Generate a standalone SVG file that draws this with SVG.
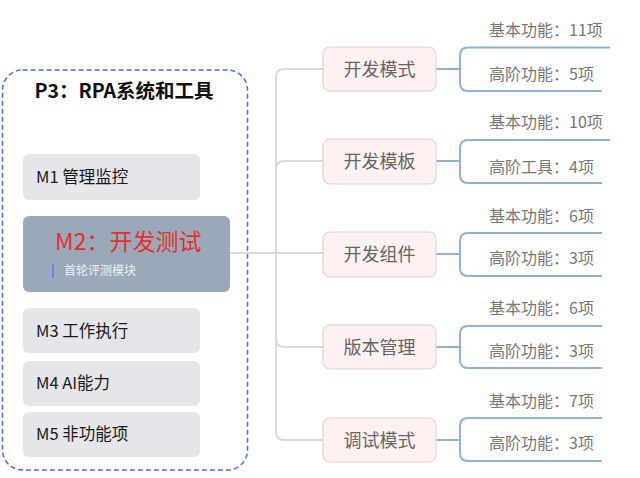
<svg xmlns="http://www.w3.org/2000/svg" width="640" height="478" viewBox="0 0 640 478">
<style>
text{font-family:"Noto Sans CJK SC","Liberation Sans",sans-serif}
.mod{fill:#e5e6ea}
.mt{font-size:16.5px;fill:#1a1a1a}
.nd{fill:#fdf1f1;stroke:#f0cccc;stroke-width:1.2}
.nt{font-size:18px;fill:#666;text-anchor:middle}
.lb{font-size:16px;fill:#777}
.gc{fill:none;stroke:#d9d9d9;stroke-width:2}
.bc{fill:none;stroke:#93b1cf;stroke-width:2}
</style>
<rect width="640" height="478" fill="#fff"/>
<g id="frame">
<rect x="2.5" y="70" width="245" height="400" rx="20" fill="none" stroke="#4a6cf5" stroke-width="1.5" stroke-dasharray="5 3"/>
<text x="124" y="98" text-anchor="middle" font-size="19.5" font-weight="bold" fill="#111">P3：RPA系统和工具</text>
</g>
<g id="connectors">
<path class="gc" d="M323,69 H284 Q276,69 276,77 V432 Q276,440 284,440 H323"/>
<path class="gc" d="M323,161 H284 Q276,161 276,169"/>
<path class="gc" d="M230,253 H323"/>
<path class="gc" d="M323,347 H284 Q276,347 276,339"/>
<g class="bc">
<path class="bc" d="M436,69 H460"/><path class="bc" d="M610,47.5 H468 Q460,47.5 460,55.5 V83 Q460,91 468,91 H602"/>
<path class="bc" d="M436,161 H460"/><path class="bc" d="M610,140 H468 Q460,140 460,148 V175 Q460,183 468,183 H602"/>
<path class="bc" d="M436,254 H460"/><path class="bc" d="M602,233 H468 Q460,233 460,241 V268 Q460,276 468,276 H602"/>
<path class="bc" d="M436,347 H460"/><path class="bc" d="M602,326 H468 Q460,326 460,334 V360 Q460,368 468,368 H602"/>
<path class="bc" d="M436,440 H460"/><path class="bc" d="M602,418 H468 Q460,418 460,426 V453 Q460,461 468,461 H602"/>
</g>
</g>
<g id="m1"><rect class="mod" x="23" y="154" width="177" height="46" rx="6"/><text class="mt" x="36" y="183">M1 管理监控</text></g>
<g id="m2"><rect x="23" y="216" width="207" height="76" rx="6" fill="#9aa9ba"/>
<text x="55" y="250" font-size="23" fill="#e5302a">M2：开发测试</text>
<rect x="52" y="264" width="2" height="14" fill="#7b80e8"/>
<text x="64" y="275" font-size="12" fill="#eef1f5">首轮评测模块</text></g>
<g id="m3"><rect class="mod" x="23" y="308" width="177" height="45" rx="6"/><text class="mt" x="36" y="337">M3 工作执行</text></g>
<g id="m4"><rect class="mod" x="23" y="361" width="177" height="45" rx="6"/><text class="mt" x="36" y="389">M4 AI能力</text></g>
<g id="m5"><rect class="mod" x="23" y="412" width="177" height="45" rx="6"/><text class="mt" x="36" y="440">M5 非功能项</text></g>
<g id="n1"><rect class="nd" x="323" y="47" width="113" height="44" rx="7"/><text class="nt" x="379.5" y="75.5">开发模式</text></g>
<g id="n2"><rect class="nd" x="323" y="139" width="113" height="45" rx="7"/><text class="nt" x="379.5" y="168">开发模板</text></g>
<g id="n3"><rect class="nd" x="323" y="232" width="113" height="45" rx="7"/><text class="nt" x="379.5" y="260.5">开发组件</text></g>
<g id="n4"><rect class="nd" x="323" y="325" width="113" height="44" rx="7"/><text class="nt" x="379.5" y="353.5">版本管理</text></g>
<g id="n5"><rect class="nd" x="323" y="418" width="113" height="44" rx="7"/><text class="nt" x="379.5" y="446.5">调试模式</text></g>
<g id="labels">
<text class="lb" x="489" y="36">基本功能：11项</text>
<text class="lb" x="489" y="80">高阶功能：5项</text>
<text class="lb" x="489" y="128">基本功能：10项</text>
<text class="lb" x="489" y="173">高阶工具：4项</text>
<text class="lb" x="489" y="222">基本功能：6项</text>
<text class="lb" x="489" y="264">高阶功能：3项</text>
<text class="lb" x="489" y="314">基本功能：6项</text>
<text class="lb" x="489" y="357">高阶功能：3项</text>
<text class="lb" x="489" y="407">基本功能：7项</text>
<text class="lb" x="489" y="449">高阶功能：3项</text>
</g>
</svg>
